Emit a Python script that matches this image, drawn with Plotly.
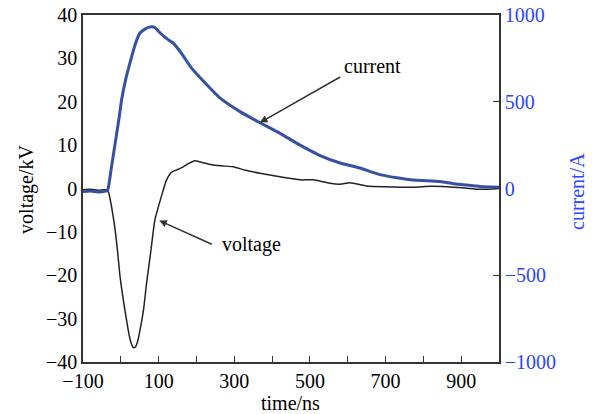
import plotly.graph_objects as go

# time axis (ns)
t_current = [-100, -80, -60, -40, -35, -25, -15, -5, 2, 12, 24, 38, 50, 65, 75, 82, 90,
             100, 115, 125, 140, 160, 185, 220, 262, 315, 368, 421, 474, 527, 580,
             632, 685, 730, 773, 810, 844, 880, 914, 950, 1000]
current_A = [-18, -15, -20, -15, -10, 120, 260, 400, 510, 620, 722, 830, 895, 920, 930, 932, 928,
             905, 875, 858, 835, 780, 700, 615, 522, 443, 379, 318, 250, 190, 147,
             118, 80, 62, 49, 45, 40, 28, 20, 12, 7]

t_voltage = [-100, -80, -60, -40, -33, -28, -22, -15, -8, -2, 8, 15, 22, 28, 33, 38, 44, 50,
             60, 68, 80, 90, 100, 110, 121, 135, 148, 165, 180, 196, 215, 244, 270, 297, 330,
             368, 421, 474, 509, 553, 580, 606, 650, 700, 773, 820, 862, 910, 950, 1000]
voltage_kV = [-0.3, -0.2, -0.4, -0.3, -0.8, -2.6, -5.5, -9.6, -15, -20.3, -26.5, -30.3, -33.8,
              -35.8, -36.7, -36.6, -35.4, -33.0, -28, -21.9, -14, -7.3, -4.0, -1.0, 2.0, 3.8,
              4.3, 5.0, 5.8, 6.4, 6.0, 5.4, 5.2, 5.0, 4.2, 3.5, 2.7, 2.0, 2.0, 1.2, 1.0, 1.35,
              0.6, 0.4, 0.3, 0.5, 0.4, 0.1, -0.2, 0.0]

x_ticks = [-100, 100, 300, 500, 700, 900]
x_minor = [0, 200, 400, 600, 800]

FONT = "Liberation Serif"
BLUE = "#2a46ff"
AX = "#333333"

fig = go.Figure()
fig.add_trace(go.Scatter(x=t_voltage, y=voltage_kV, mode="lines",
                         line=dict(color="#222222", width=1.5, shape="spline", smoothing=0.6),
                         yaxis="y"))
fig.add_trace(go.Scatter(x=t_current, y=current_A, mode="lines",
                         line=dict(color="#3651a2", width=3, shape="spline", smoothing=0.6),
                         yaxis="y2"))

fig.update_layout(
    width=594, height=414,
    margin=dict(l=83, r=95, t=15, b=52, autoexpand=False),
    paper_bgcolor="white", plot_bgcolor="white",
    showlegend=False,
    font=dict(family=FONT, size=20, color="black"),
    xaxis=dict(range=[-100, 1000], tickvals=x_ticks, ticks="inside", ticklen=6,
               tickcolor=AX, showline=True, linecolor=AX, linewidth=1.5,
               mirror=True, showgrid=False, zeroline=False,
               minor=dict(tickvals=x_minor, ticks="inside", ticklen=6,
                          tickcolor=AX, showgrid=False),
               tickfont=dict(family=FONT, size=20)),
    yaxis=dict(range=[-40, 40], dtick=10, ticks="", showline=True, linecolor=AX,
               linewidth=1.5, showgrid=False, zeroline=False,
               tickfont=dict(family=FONT, size=20)),
    yaxis2=dict(range=[-1000, 1000], dtick=500, overlaying="y", side="right",
                ticks="inside", ticklen=6, tickcolor=AX, showline=True,
                linecolor=AX, linewidth=1.5, showgrid=False, zeroline=False,
                tickfont=dict(family=FONT, size=20, color=BLUE)),
)

fig.add_annotation(xref="paper", yref="paper", x=-0.1346, y=0.496, text="voltage/kV",
                   textangle=-90, showarrow=False, xanchor="center", yanchor="middle",
                   font=dict(family=FONT, size=20, color="black"))
fig.add_annotation(xref="paper", yref="paper", x=1.1875, y=0.49, text="current/A",
                   textangle=-90, showarrow=False, xanchor="center", yanchor="middle",
                   font=dict(family=FONT, size=20, color=BLUE))
fig.add_annotation(xref="paper", yref="paper", x=0.4976, y=-0.118, text="time/ns",
                   showarrow=False, xanchor="center", yanchor="middle",
                   font=dict(family=FONT, size=20, color="black"))

# arrows
fig.add_annotation(x=368, y=15.2, ax=584, ay=25.9, xref="x", yref="y", axref="x", ayref="y",
                   text="", showarrow=True, arrowhead=2, arrowsize=1, arrowwidth=1.5,
                   arrowcolor=AX)
fig.add_annotation(x=101.7, y=-7.4, ax=244.5, ay=-13.0, xref="x", yref="y", axref="x", ayref="y",
                   text="", showarrow=True, arrowhead=2, arrowsize=1, arrowwidth=1.5,
                   arrowcolor=AX)
fig.add_annotation(x=666.8, y=28.2, xref="x", yref="y", text="current", showarrow=False,
                   xanchor="center", yanchor="middle",
                   font=dict(family=FONT, size=20, color="black"))
fig.add_annotation(x=346.8, y=-13.0, xref="x", yref="y", text="voltage", showarrow=False,
                   xanchor="center", yanchor="middle",
                   font=dict(family=FONT, size=20, color="black"))

fig.write_html("out.html", config={"displayModeBar": False},
               post_script="document.body.style.margin='0';")
